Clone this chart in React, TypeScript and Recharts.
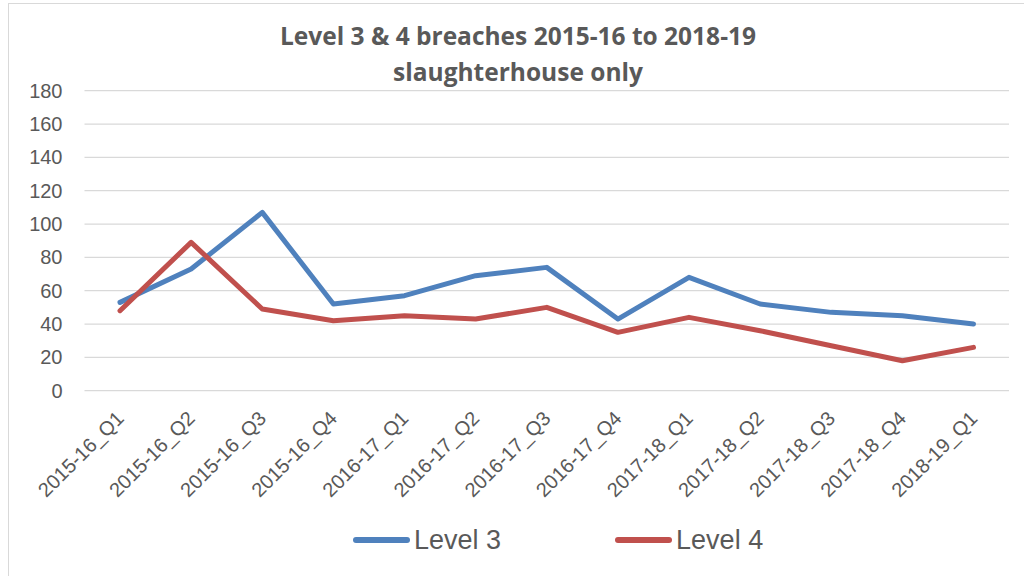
import React from "react";
import { LineChart, Line, XAxis, YAxis, CartesianGrid, Legend } from "recharts";

const categories = [
  "2015-16_Q1", "2015-16_Q2", "2015-16_Q3", "2015-16_Q4",
  "2016-17_Q1", "2016-17_Q2", "2016-17_Q3", "2016-17_Q4",
  "2017-18_Q1", "2017-18_Q2", "2017-18_Q3", "2017-18_Q4",
  "2018-19_Q1",
];
const level3 = [53, 73, 107, 52, 57, 69, 74, 43, 68, 52, 47, 45, 40];
const level4 = [48, 89, 49, 42, 45, 43, 50, 35, 44, 36, 27, 18, 26];
const yTicks = [0, 20, 40, 60, 80, 100, 120, 140, 160, 180];
const titleLines = ["Level 3 & 4 breaches 2015-16 to 2018-19", "slaughterhouse only"];
const seriesNames = { level3: "Level 3", level4: "Level 4" };

const data = categories.map((c, i) => ({ name: c, level3: level3[i], level4: level4[i] }));

const FONT = "'Liberation Sans', Arial, sans-serif";
const TITLE_FONT = "'Open Sans', 'Liberation Sans', sans-serif";
const TEXT = "#595959";

const XTick = (props: any) => {
  const { x, y, payload } = props;
  return (
    <g transform={`translate(${x + 5},${y + 29})`}>
      <text
        x={0}
        y={0}
        textAnchor="end"
        transform="rotate(-45)"
        fill={TEXT}
        fontSize={20}
        fontFamily={FONT}
      >
        {payload.value}
      </text>
    </g>
  );
};

const LegendContent = (props: any) => {
  const { payload } = props;
  return (
    <div style={{ display: "flex", alignItems: "center", height: 40, paddingLeft: 344 }}>
      {(payload || []).map((p: any, i: number) => (
        <div key={i} style={{ display: "flex", alignItems: "center", marginRight: i === 0 ? 114 : 0 }}>
          <div style={{ width: 57, height: 6, borderRadius: 3, background: p.color }} />
          <span style={{ marginLeft: 4, fontSize: 27, color: TEXT, fontFamily: FONT, lineHeight: "40px" }}>
            {p.value}
          </span>
        </div>
      ))}
    </div>
  );
};

export default function App() {
  return (
    <div
      style={{
        position: "absolute",
        left: 8,
        top: 3,
        width: 1015,
        height: 572,
        borderLeft: "1px solid #D9D9D9",
        borderTop: "1px solid #D9D9D9",
        background: "#fff",
        fontFamily: FONT,
      }}
    >
      <div
        style={{
          position: "absolute",
          left: 209,
          top: 14,
          width: 600,
          textAlign: "center",
          fontWeight: "bold",
          fontSize: 24.5,
          lineHeight: "36px",
          color: TEXT,
          fontFamily: TITLE_FONT,
          zIndex: 2,
          pointerEvents: "none",
        }}
      >
        <div>{titleLines[0]}</div>
        <div>{titleLines[1]}</div>
      </div>
      <LineChart
        width={1015}
        height={572}
        data={data}
        margin={{ top: 86.7, right: 15, bottom: 16, left: 0 }}
        style={{ fontFamily: FONT }}
      >
        <CartesianGrid vertical={false} stroke="#D9D9D9" strokeWidth={1.3} />
        <XAxis
          dataKey="name"
          interval={0}
          height={129.3}
          padding={{ left: 35.5, right: 35.5 }}
          axisLine={false}
          tickLine={false}
          tickSize={0}
          tickMargin={0}
          tick={<XTick />}
        />
        <YAxis
          width={75.5}
          domain={[0, 180]}
          ticks={yTicks}
          axisLine={false}
          tickLine={false}
          tickSize={6}
          tickMargin={16}
          tick={{ fill: TEXT, fontSize: 20, fontFamily: FONT }}
        />
        <Legend
          verticalAlign="bottom"
          height={40}
          wrapperStyle={{ left: 0, width: 1015, height: 40 }}
          content={<LegendContent />}
        />
        <Line
          type="linear"
          dataKey="level3"
          name={seriesNames.level3}
          stroke="#4F81BD"
          strokeWidth={5}
          strokeLinecap="round"
          strokeLinejoin="round"
          dot={false}
          isAnimationActive={false}
        />
        <Line
          type="linear"
          dataKey="level4"
          name={seriesNames.level4}
          stroke="#C0504D"
          strokeWidth={5}
          strokeLinecap="round"
          strokeLinejoin="round"
          dot={false}
          isAnimationActive={false}
        />
      </LineChart>
    </div>
  );
}
